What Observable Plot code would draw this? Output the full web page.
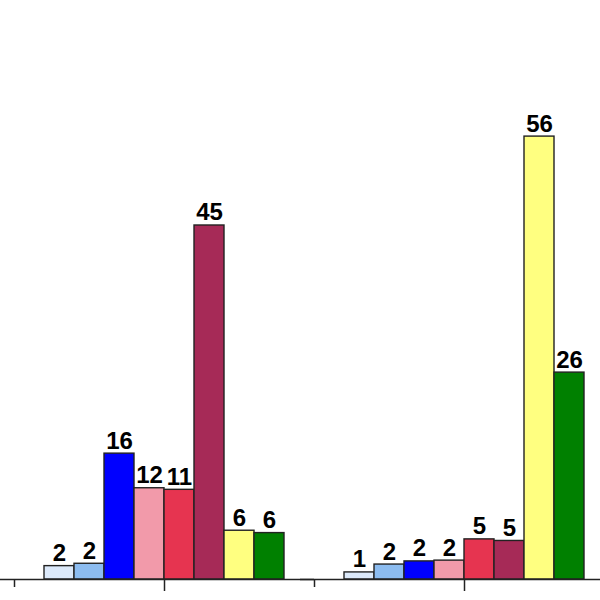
<!DOCTYPE html>
<html><head><meta charset="utf-8">
<script src="https://cdn.jsdelivr.net/npm/d3@7"></script>
<script src="https://cdn.jsdelivr.net/npm/@observablehq/plot@0.6"></script>
<style>body{margin:0;background:#fff;overflow:hidden}</style>
</head><body><div id="chart"></div>
<script>
const groups = ["Group A", "Group B"];
const series = ["S1", "S2", "S3", "S4", "S5", "S6", "S7", "S8"];
const valuesA = [1.7, 2.0, 16.0, 11.6, 11.4, 45.0, 6.2, 5.9];
const valuesB = [0.9, 1.9, 2.3, 2.4, 5.1, 4.9, 56.3, 26.3];
const colors = ["#dce9fa", "#8cbcf0", "#0000ff", "#f29aaa", "#e63450", "#a62a57", "#ffff80", "#008000"];

const values = [valuesA, valuesB];
const data = groups.flatMap((g, gi) => series.map((s, si) => ({group: g, series: s, value: values[gi][si]})));

const chart = Plot.plot({
  width: 600, height: 600,
  marginTop: 0, marginBottom: 21, marginLeft: 14, marginRight: 0,
  style: {fontFamily: "'Liberation Sans', Arial, sans-serif", background: "#fff"},
  fx: {domain: groups, range: [14, 614], padding: 0, axis: null, label: null},
  x: {domain: series, paddingInner: 0, paddingOuter: 1, axis: null},
  y: {domain: [0, 73.6], axis: null},
  color: {domain: series, range: colors},
  marks: [
    Plot.barY(data, {fx: "group", x: "series", y: "value", fill: "series", stroke: "#222", strokeWidth: 1.4}),
    Plot.text(data, {fx: "group", x: "series", y: "value", text: d => d3.format(".0f")(d.value), lineAnchor: "bottom", dy: -5, fontSize: 24, fontWeight: "bold", fill: "#000"}),
    Plot.ruleY([0], {insetLeft: -14, stroke: "#222", strokeWidth: 1.5}),
    Plot.axisFx({anchor: "bottom", label: null, tickSize: 12, tickFormat: () => "", stroke: "#222", strokeWidth: 1.5}),
    Plot.axisFx({anchor: "bottom", label: null, tickSize: 8, dx: -150, tickFormat: () => "", stroke: "#222", strokeWidth: 1.5})
  ]
});
document.getElementById("chart").append(chart);
</script>
</body></html>
